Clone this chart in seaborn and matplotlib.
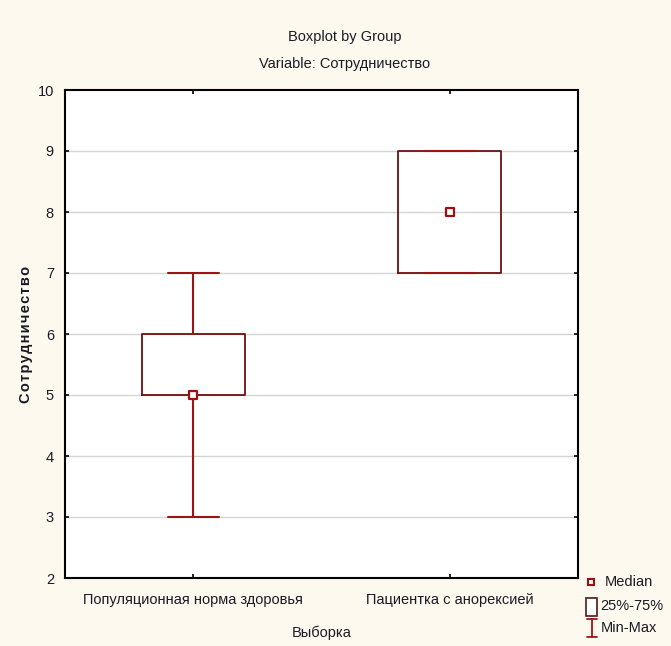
import numpy as np
import pandas as pd
import matplotlib.pyplot as plt
from matplotlib.patches import Rectangle
import seaborn as sns

# five-number summaries: min, q1, median, q3, max
groups = ["Популяционная норма здоровья", "Пациентка с анорексией"]
norm_values = [3, 5, 5, 6, 7]
anorexia_values = [7, 7, 8, 9, 9]
y_ticks = [2, 3, 4, 5, 6, 7, 8, 9, 10]
legend_labels = ["Median", "25%-75%", "Min-Max"]

BG = "#fdf9ee"
BOX = "#6e1010"
WHISK = "#9c1414"
TXT = "#1a1a26"
FS = 10.5


def main():
    sns.set_theme(style="ticks")
    plt.rcParams["font.family"] = ["Liberation Sans", "DejaVu Sans"]
    plt.rcParams["font.size"] = FS
    plt.rcParams["text.color"] = TXT

    df = pd.DataFrame({
        "group": [groups[0]] * len(norm_values) + [groups[1]] * len(anorexia_values),
        "value": norm_values + anorexia_values,
    })

    W, H = 671, 646
    fig = plt.figure(figsize=(W / 100, H / 100), dpi=100, facecolor=BG)
    ax = fig.add_axes([65 / W, 1 - 578 / H, 513 / W, 488 / H])
    ax.set_facecolor("white")

    for y in y_ticks[1:-1]:
        ax.axhline(y, color="#d4d4d4", lw=1.0, zorder=0)

    sns.boxplot(data=df, x="group", y="value", order=groups, whis=(0, 100),
                width=0.4, fill=False, ax=ax, linewidth=1.3,
                boxprops=dict(color=BOX, linewidth=1.3),
                whiskerprops=dict(color=WHISK, linewidth=1.5),
                capprops=dict(color=WHISK, linewidth=1.5),
                medianprops=dict(visible=False), showfliers=False)

    med = df.groupby("group", sort=False)["value"].median().reset_index()
    sns.scatterplot(data=med, x="group", y="value", marker="s", s=26,
                    facecolor="white", edgecolor="#a01010", linewidth=1.6,
                    zorder=5, ax=ax)

    ax.set_xlim(-0.5, 1.5)
    ax.set_ylim(2, 10)
    ax.set_yticks(y_ticks)
    ax.tick_params(axis="both", direction="in", length=3, width=1.2,
                   color="black", labelsize=FS, labelcolor=TXT, pad=8)
    ax.tick_params(axis="x", top=True, pad=11)
    ax.tick_params(axis="y", right=True)
    for s in ax.spines.values():
        s.set_visible(True)
        s.set_color("black")
        s.set_linewidth(1.5)

    ax.set_xlabel("Выборка", fontsize=FS, labelpad=13, color=TXT)
    ax.set_ylabel("\u200a".join("Сотрудничество"), fontsize=FS,
                  fontweight="bold", color=TXT)
    ax.yaxis.set_label_coords((33 - 65) / 513, 0.5)

    fig.text(345 / W, 1 - 37 / H, "Boxplot by Group", ha="center", va="center", fontsize=FS)
    fig.text(345 / W, 1 - 64 / H, "Variable: Сотрудничество", ha="center", va="center", fontsize=FS)

    # legend drawn in a pixel-coordinate overlay
    lg = fig.add_axes([0, 0, 1, 1], facecolor="none")
    lg.set_xlim(0, W)
    lg.set_ylim(H, 0)
    lg.axis("off")
    lg.plot([591], [582], ls="none", marker="s", markersize=5,
            markerfacecolor="white", markeredgecolor="#a01010", markeredgewidth=1.5)
    lg.add_patch(Rectangle((586, 598), 11, 18, facecolor="white",
                           edgecolor="#4a1a1a", linewidth=1.2))
    lg.plot([592, 592], [619, 637], color=WHISK, lw=1.3)
    lg.plot([587, 597], [619, 619], color=WHISK, lw=1.3)
    lg.plot([587, 597], [637, 637], color=WHISK, lw=1.3)
    for (x, y), lab in zip([(605, 582), (600, 606), (601, 628)], legend_labels):
        lg.text(x, y, lab, ha="left", va="center", fontsize=FS, color=TXT)

    fig.savefig("out.png", dpi=100, facecolor=BG)


if __name__ == "__main__":
    main()
